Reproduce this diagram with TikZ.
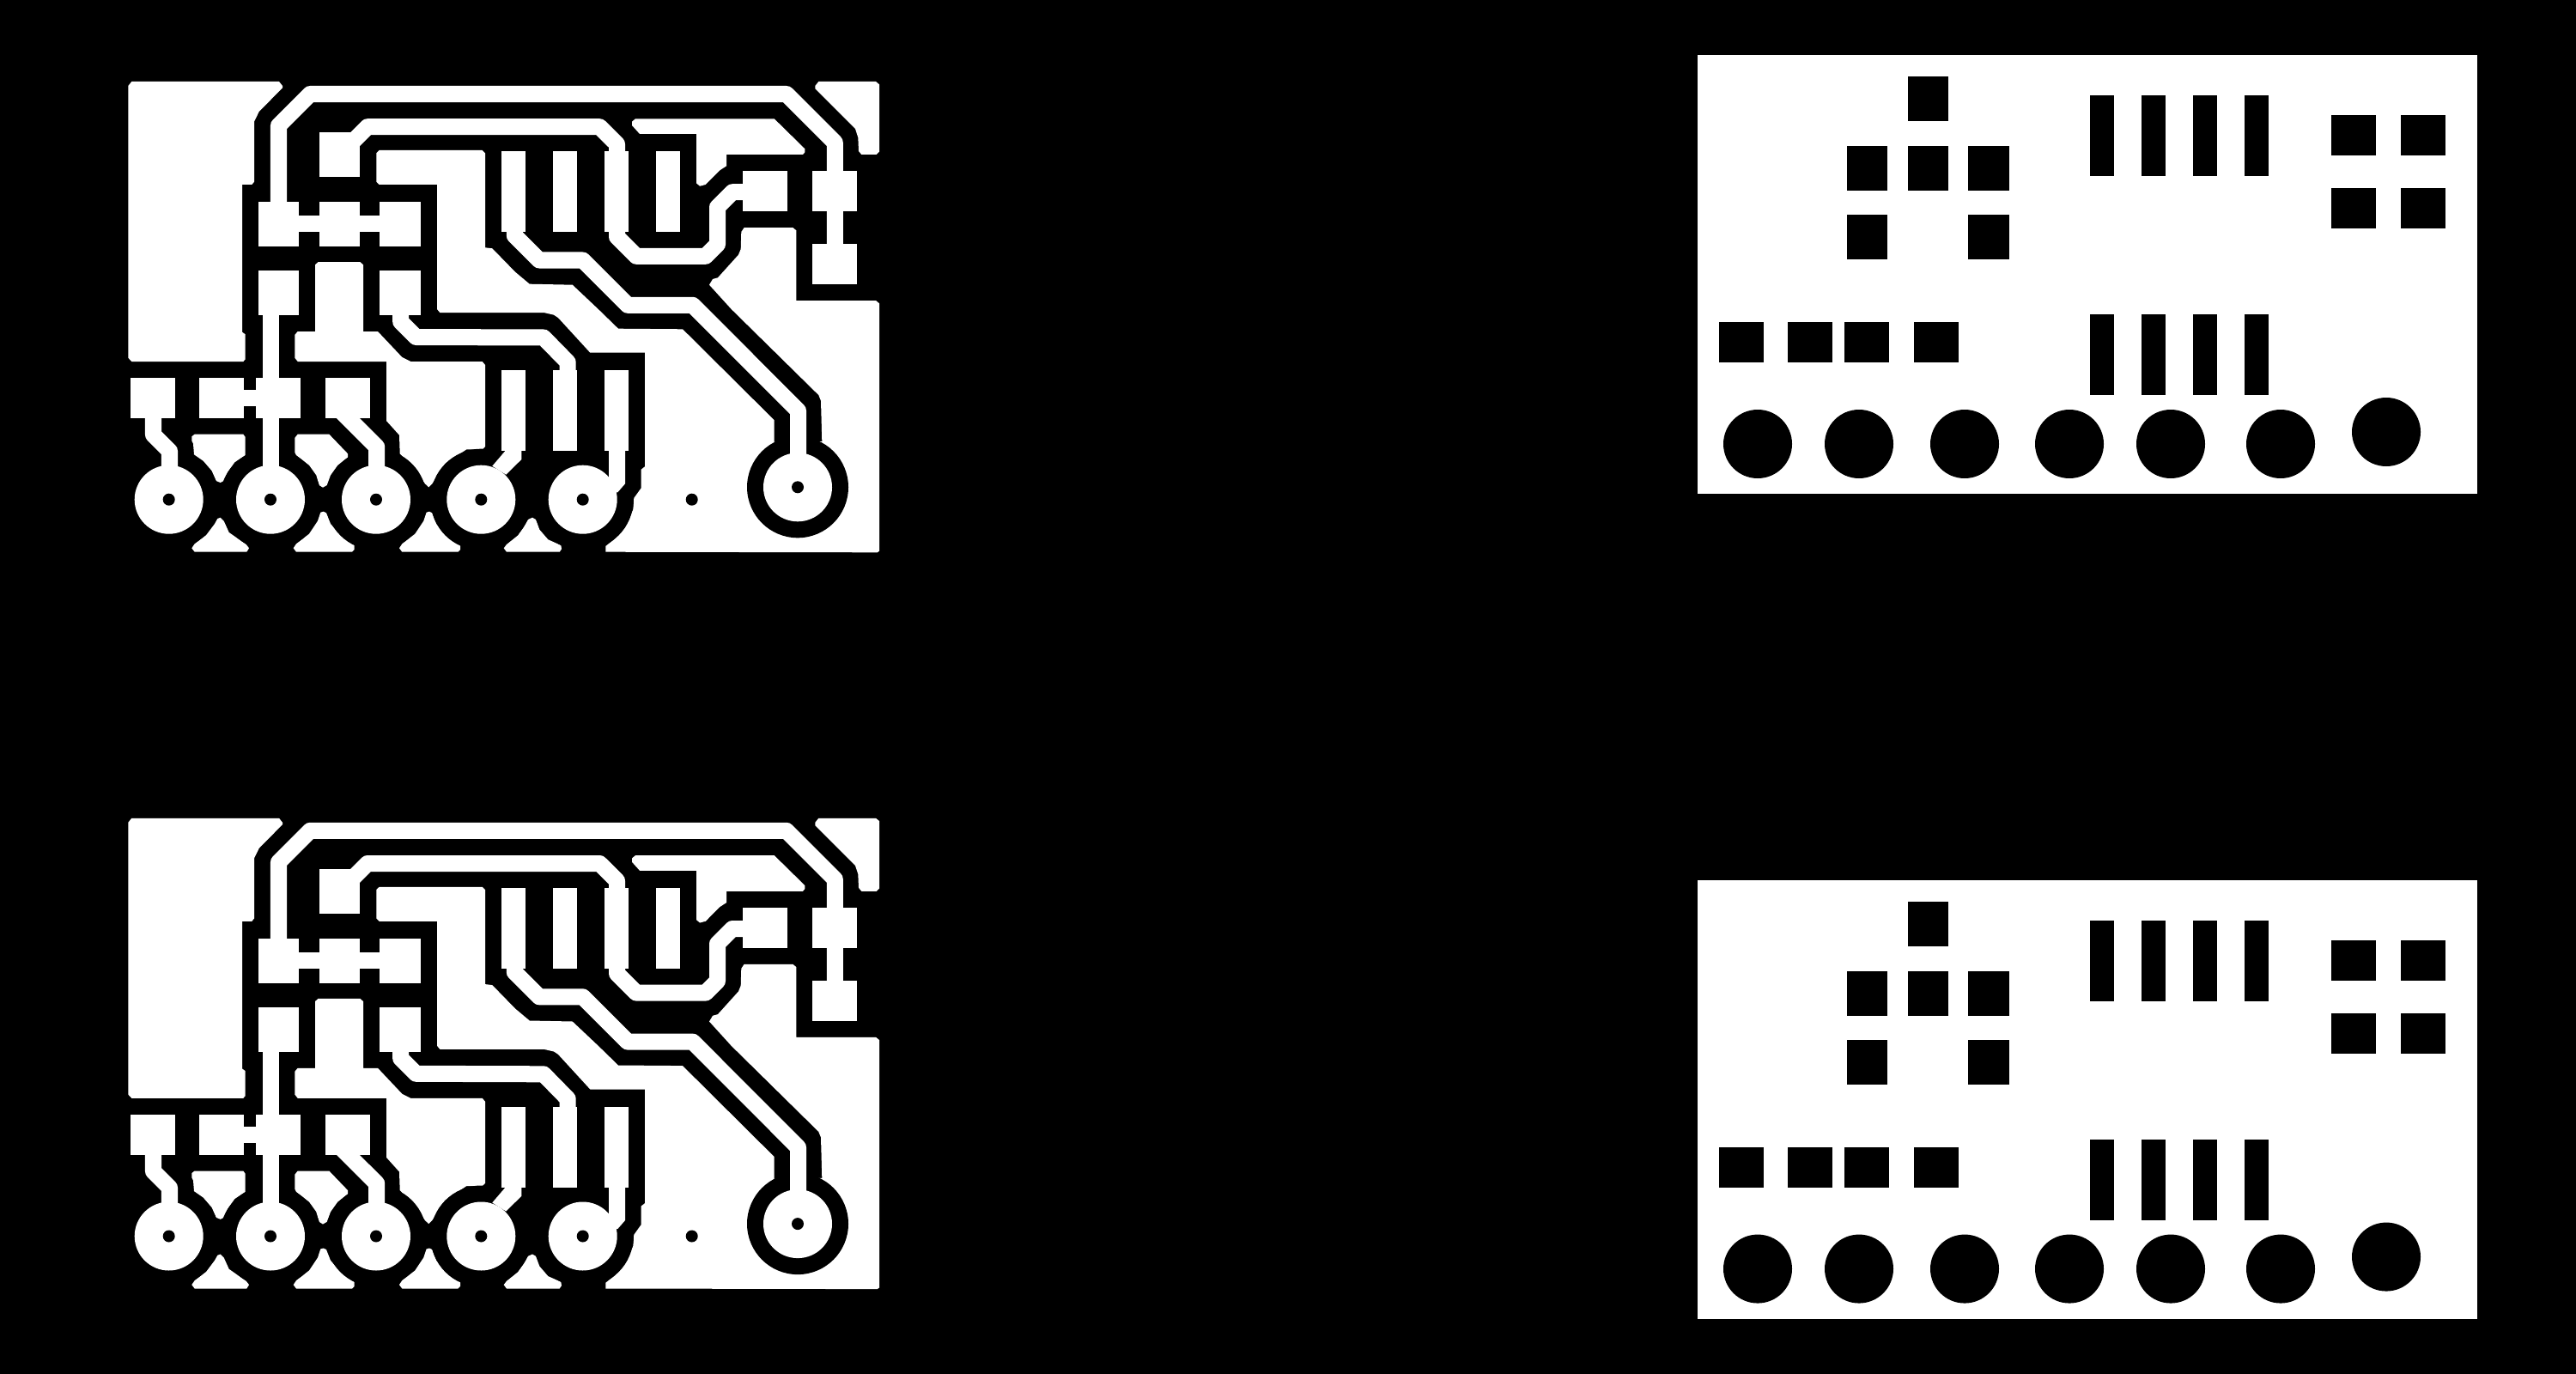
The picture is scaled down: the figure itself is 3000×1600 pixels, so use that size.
\documentclass[tikz,border=0pt]{standalone}
\tikzset{
  copper/.style={fill=white,draw=none},
  cleared/.style={fill=black,draw=none},
  track/.style={draw=white,line width=0.19cm,line join=round,line cap=butt},
  padmask/.style={fill=black,draw=none}
}
\newcommand{\boardcopper}{%
  % large left pour
  \fill[copper] (149.3,100)--(153.3,95)--(325,95)--(329,100)--(329,102.3)--(301.7,130)--(296,141.7)--(296,211.7)--(293.3,215)--(282,215)--(282,386.7)--(285.7,389.3)--(285.7,418.3)--(283.3,421)--(153.3,421)--(149.3,416.7)--cycle;
  % main ground pour
  \fill[copper] (438.3,178.3)--(441.7,175)--(561.7,175)--(565,178.3)--(565,288.3)--(573.3,289.3)--(600,316.7)--(616.7,330.7)--(666.7,331.7)--(696.7,360)--(720,382.7)--(795,383.3)--(901.7,489.3)--(901.7,515)--(957.3,514)--(956,466.7)--(953.3,460)--(851.7,360)--(826,331.7)--(830,325)--(836,323.3)--(860,296.7)--(862.7,290)--(863.3,270)--(866.7,265)--(923.3,265)--(927.3,268.3)--(927.3,350)--(1020,350)--(1024,353.3)--(1024,641.7)--(1021.7,643.3)--(705.3,642.7)--(705.3,636)--(715,628.3)--(728.3,613.3)--(737.3,593.3)--(738.3,580)--(746.7,568.3)--(746.7,546.7)--(751,543.3)--(751,410.7)--(687.3,410.7)--(650,370)--(645,366.7)--(633.3,364)--(512.3,364)--(509,360)--(509,215)--(441.7,215)--(438.3,211.7)--cycle;
  % centre-left pour
  \fill[copper] (367,308.3)--(370.7,305)--(419.3,305)--(423,308.3)--(423,386)--(440,386)--(468.3,416)--(478.3,421)--(561.7,421)--(565,425)--(565,520)--(561.7,523.3)--(543.3,523.3)--(518.3,540)--(503.3,563.3)--(499.3,567.3)--(495,563.3)--(483.3,546.7)--(465.7,528.3)--(465,506.7)--(450,490)--(450,421)--(346.7,421)--(343.3,416.7)--(343.3,390)--(346.7,386)--(367,386)--cycle;
  % top pours
  \fill[copper] (736,141.7)--(740,138.3)--(901.7,138.3)--(937.3,173.3)--(937.3,177.3)--(935,180)--(846,180)--(846,193.3)--(838.3,198.3)--(821.7,215)--(815,216.7)--(811,213.3)--(811,156)--(745,156)--(736,146)--cycle;
  \fill[copper] (949.3,100)--(953.3,95)--(1020,95)--(1024,98.3)--(1024,176.7)--(1020.7,180)--(1003.3,180)--(1000,176)--(999.3,160)--(996,150)--(949.3,103.3)--cycle;
  % islands between the round pads
  \fill[copper] (223.3,638.3)--(226.7,633.3)--(240,623.3)--(250,610)--(253.3,604)--(256.7,602.7)--(260.7,606.7)--(266.7,620)--(286.7,634)--(290,638.3)--(287.3,642.7)--(226.7,642.7)--cycle;
  \fill[copper] (341.7,638.3)--(345,633.3)--(360,621.7)--(370,606.7)--(373.3,596.7)--(376.7,595.7)--(380,597.3)--(385,610)--(396.7,623.3)--(412.7,635)--(412.7,640)--(410,642.7)--(345,642.7)--cycle;
  \fill[copper] (465,638.3)--(468.3,633.3)--(483.3,621.7)--(493.3,606.7)--(496.6,596.7)--(500,595.7)--(503.3,597.3)--(508.3,610)--(520,623.3)--(536,635)--(536,640)--(533.3,642.7)--(468.3,642.7)--cycle;
  \fill[copper] (586.7,638.3)--(590,634)--(603.3,623.3)--(610,613.3)--(615,605)--(620,602.7)--(624,605)--(628.3,616.7)--(638.3,628.3)--(653.3,635)--(654,639.3)--(651.7,642.7)--(590,642.7)--cycle;
  \fill[copper] (223.3,508.3)--(226.7,505.7)--(283.3,505.7)--(285.7,509)--(285.7,530)--(273.3,538.3)--(265,550)--(260.7,560)--(256.7,562)--(251.7,560)--(246.7,548.3)--(236.7,536.7)--(226,529.3)--(225,516.7)--(223.3,513.3)--cycle;
  \fill[copper] (343.3,510)--(346.7,505.7)--(383.3,505.7)--(405,528.3)--(405,532.7)--(393.3,541.7)--(385,553.3)--(380.7,565)--(376,567.7)--(371.7,565)--(368.3,553.3)--(360,541.7)--(345,530)--(343.3,526.7)--cycle;
  % clearance rings of the round pads
  \foreach \px/\py in {196.7/581.7,315/581.7,438/581.7,560.3/581.7,678.7/581.7,929/567.3}{
    \fill[cleared] (\px,\py) circle[radius=59];}
  % pads
  \fill[copper] (372,154) rectangle (419,206);
  \fill[copper] (301,234.7) rectangle (348,286.7);
  \fill[copper] (372,234.7) rectangle (419,286.7);
  \fill[copper] (442,234.7) rectangle (490,286.7);
  \fill[copper] (301,315) rectangle (348,366.7);
  \fill[copper] (442,315) rectangle (490,366.7);
  \fill[copper] (865,199) rectangle (917,246);
  \fill[copper] (946,199) rectangle (998,246);
  \fill[copper] (946,284) rectangle (998,331);
  \fill[copper] (152,440) rectangle (204,487);
  \fill[copper] (232,440) rectangle (284,487);
  \fill[copper] (298,440) rectangle (350,487);
  \fill[copper] (379,440) rectangle (431,487);
  \foreach \sx in {584,644,704,764}{\fill[copper] (\sx,175.7) rectangle ++(28,94.3);}
  \foreach \sx in {584,644,704}{\fill[copper] (\sx,430.7) rectangle ++(28,94.3);}
  % tracks
  \draw[track] (324.5,240)--(324.5,146.2)--(361.2,109.5)--(915.8,109.5)--(972.3,166)--(972.3,300);
  \draw[track] (410,165.7)--(428,147.7)--(698.3,147.7)--(718.5,167.8)--(718.5,180);
  \draw[track] (718.5,260)--(718.5,275.8)--(741,298.3)--(821.7,298.3)--(835.5,284.5)--(835.5,241.2)--(853,223.7)--(870,223.7);
  \draw[track] (599.3,265)--(599.3,274.3)--(628,303)--(678.7,303)--(731,355.3)--(806.7,355.3)--(929.5,478.3)--(929.5,567);
  \draw[track] (466.7,360)--(466.7,374.7)--(484.5,392.5)--(633,393)--(661.2,421.8)--(661.2,435);
  \draw[track] (348,260.5)--(442,260.5);
  \draw[track] (284,463.5)--(298,463.5);
  \draw[track] (315.5,360)--(315.5,545);
  \draw[track] (178.5,487)--(178.5,506.2)--(197.5,525.2)--(197.5,560);
  \draw[track] (397,478.7)--(438.7,520.3)--(438.7,560);
  \fill[copper] (589.3,524)--(607.3,524)--(607.3,535)--(589.3,552.7)--(573.3,542.7)--cycle;
  \fill[copper] (709,524)--(728,524)--(728,563.3)--(719.3,573.3)--(709,573.3)--cycle;
  % round pads with drill holes
  \foreach \px/\py in {196.7/581.7,315/581.7,438/581.7,560.3/581.7,678.7/581.7,929/567.3}{
    \fill[copper] (\px,\py) circle[radius=40];}
  \foreach \px/\py in {196.7/581.7,315/581.7,438/581.7,560.3/581.7,678.7/581.7,805.7/581.7,929/567.3}{
    \fill[cleared] (\px,\py) circle[radius=7];}
}
\newcommand{\boardmask}{%
  \fill[copper] (1977.3,64.5) rectangle (2885,575);
  \fill[padmask] (2222,89) rectangle (2269,141);
  \foreach \mx in {2151,2222}{\fill[padmask] (\mx,170) rectangle ++(47,52);}
  \fill[padmask] (2292,170) rectangle (2340,222);
  \fill[padmask] (2151,250) rectangle (2198,302);
  \fill[padmask] (2292,250) rectangle (2340,302);
  \foreach \mx in {2434,2494,2554,2614}{
    \fill[padmask] (\mx,111) rectangle ++(28,94);
    \fill[padmask] (\mx,366) rectangle ++(28,94);}
  \foreach \mx in {2715,2796}{
    \fill[padmask] (\mx,134) rectangle ++(52,47);
    \fill[padmask] (\mx,219) rectangle ++(52,47);}
  \foreach \mx in {2002,2082,2148,2229}{\fill[padmask] (\mx,375) rectangle ++(52,47);}
  \foreach \mx in {2047,2165,2288,2410,2528,2656}{\fill[padmask] (\mx,517) circle[radius=40];}
  \fill[padmask] (2779,503) circle[radius=40];
}
\begin{document}
\begin{tikzpicture}[x=0.01cm,y=-0.01cm]
  \useasboundingbox (0,0) rectangle (3000,1600);
  \fill[black] (0,0) rectangle (3000,1600);
  \boardcopper
  \boardmask
  \begin{scope}[yshift=-8.573cm]\boardcopper\end{scope}
  \begin{scope}[yshift=-9.6cm]\boardmask\end{scope}
\end{tikzpicture}
\end{document}
